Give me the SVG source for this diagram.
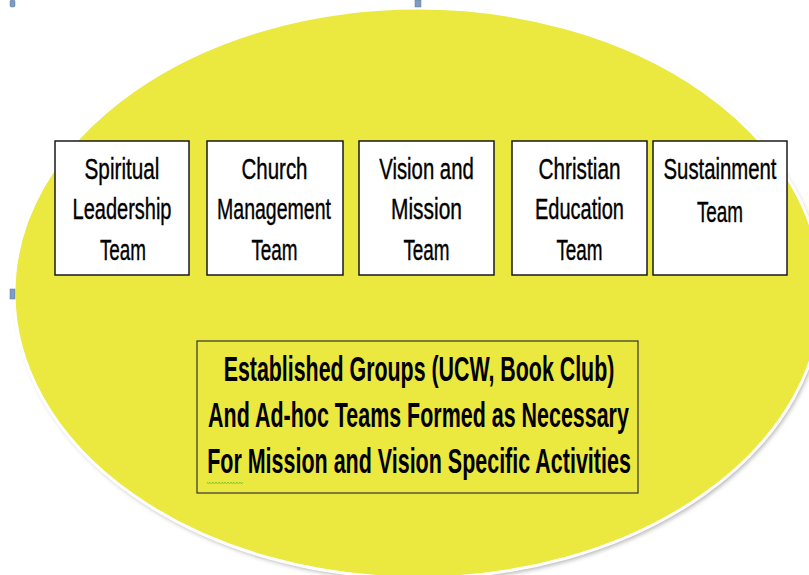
<svg xmlns="http://www.w3.org/2000/svg" width="809" height="575" viewBox="0 0 809 575">
<style>
.box{fill:#ffffff;stroke:#1a1a1a;stroke-width:1.5}
.t{font-family:"Liberation Sans",Arial,sans-serif;font-size:30px;fill:#000;stroke:#000;stroke-width:0.4;text-anchor:middle}
.b{font-family:"Liberation Sans",Arial,sans-serif;font-size:36px;font-weight:bold;fill:#000;text-anchor:middle}
.h{fill:#7f9cc0;stroke:#5a7aa6;stroke-width:0.5}
</style>
<defs>
<filter id="sh" x="-10%" y="-10%" width="120%" height="120%">
<feGaussianBlur stdDeviation="2"/>
</filter>
</defs>
<rect width="809" height="575" fill="#ffffff"/>
<g id="background">
<ellipse cx="420" cy="296" rx="404" ry="285" fill="#9a9a9a" opacity="0.7" filter="url(#sh)"/>
<ellipse cx="418" cy="293" rx="404" ry="285" fill="#ebe840" stroke="#ffffff" stroke-width="3"/>
</g>
<g id="handles">
<rect class="h" x="10" y="0" width="5" height="7" rx="1.5"/>
<rect class="h" x="415" y="0" width="6" height="7"/>
<rect class="h" x="10" y="289" width="5" height="10"/>
</g>
<g id="connectors"></g>
<g id="spiritual">
<rect class="box" x="55" y="141" width="134" height="134"/>
<text class="t" transform="translate(122,179) scale(0.692,1)">Spiritual</text>
<text class="t" transform="translate(122,219) scale(0.667,1)">Leadership</text>
<text class="t" transform="translate(123,260) scale(0.63,1)">Team</text>
</g>
<g id="church">
<rect class="box" x="207" y="141" width="136" height="134"/>
<text class="t" transform="translate(274.5,179) scale(0.683,1)">Church</text>
<text class="t" transform="translate(274,219) scale(0.651,1)">Management</text>
<text class="t" transform="translate(274.5,260) scale(0.63,1)">Team</text>
</g>
<g id="vision">
<rect class="box" x="359" y="141" width="135" height="134"/>
<text class="t" transform="translate(426.5,179) scale(0.678,1)">Vision and</text>
<text class="t" transform="translate(426.5,219) scale(0.698,1)">Mission</text>
<text class="t" transform="translate(426.5,260) scale(0.63,1)">Team</text>
</g>
<g id="education">
<rect class="box" x="512" y="141" width="135" height="134"/>
<text class="t" transform="translate(579.5,179) scale(0.693,1)">Christian</text>
<text class="t" transform="translate(579.5,219) scale(0.667,1)">Education</text>
<text class="t" transform="translate(579.5,260) scale(0.63,1)">Team</text>
</g>
<g id="sustainment">
<rect class="box" x="653" y="141" width="134" height="134"/>
<text class="t" transform="translate(720,179) scale(0.678,1)">Sustainment</text>
<text class="t" transform="translate(720,222) scale(0.63,1)">Team</text>
</g>
<g id="groups">
<rect x="197" y="341" width="441" height="152" fill="#ebe840" stroke="#333333" stroke-width="1.2"/>
<text class="b" transform="translate(419,381) scale(0.594,1)">Established Groups (UCW, Book Club)</text>
<text class="b" transform="translate(418.5,427) scale(0.596,1)">And Ad-hoc Teams Formed as Necessary</text>
<text class="b" transform="translate(419,473) scale(0.597,1)">For Mission and Vision Specific Activities</text>
<polyline points="207,482 208.5,484 210,482 211.5,484 213,482 214.5,484 216,482 217.5,484 219,482 220.5,484 222,482 223.5,484 225,482 226.5,484 228,482 229.5,484 231,482 232.5,484 234,482 235.5,484 237,482 238.5,484 240,482 241.5,484 243,482" fill="none" stroke="#6fc13a" stroke-width="0.8"/>
</g>
</svg>
